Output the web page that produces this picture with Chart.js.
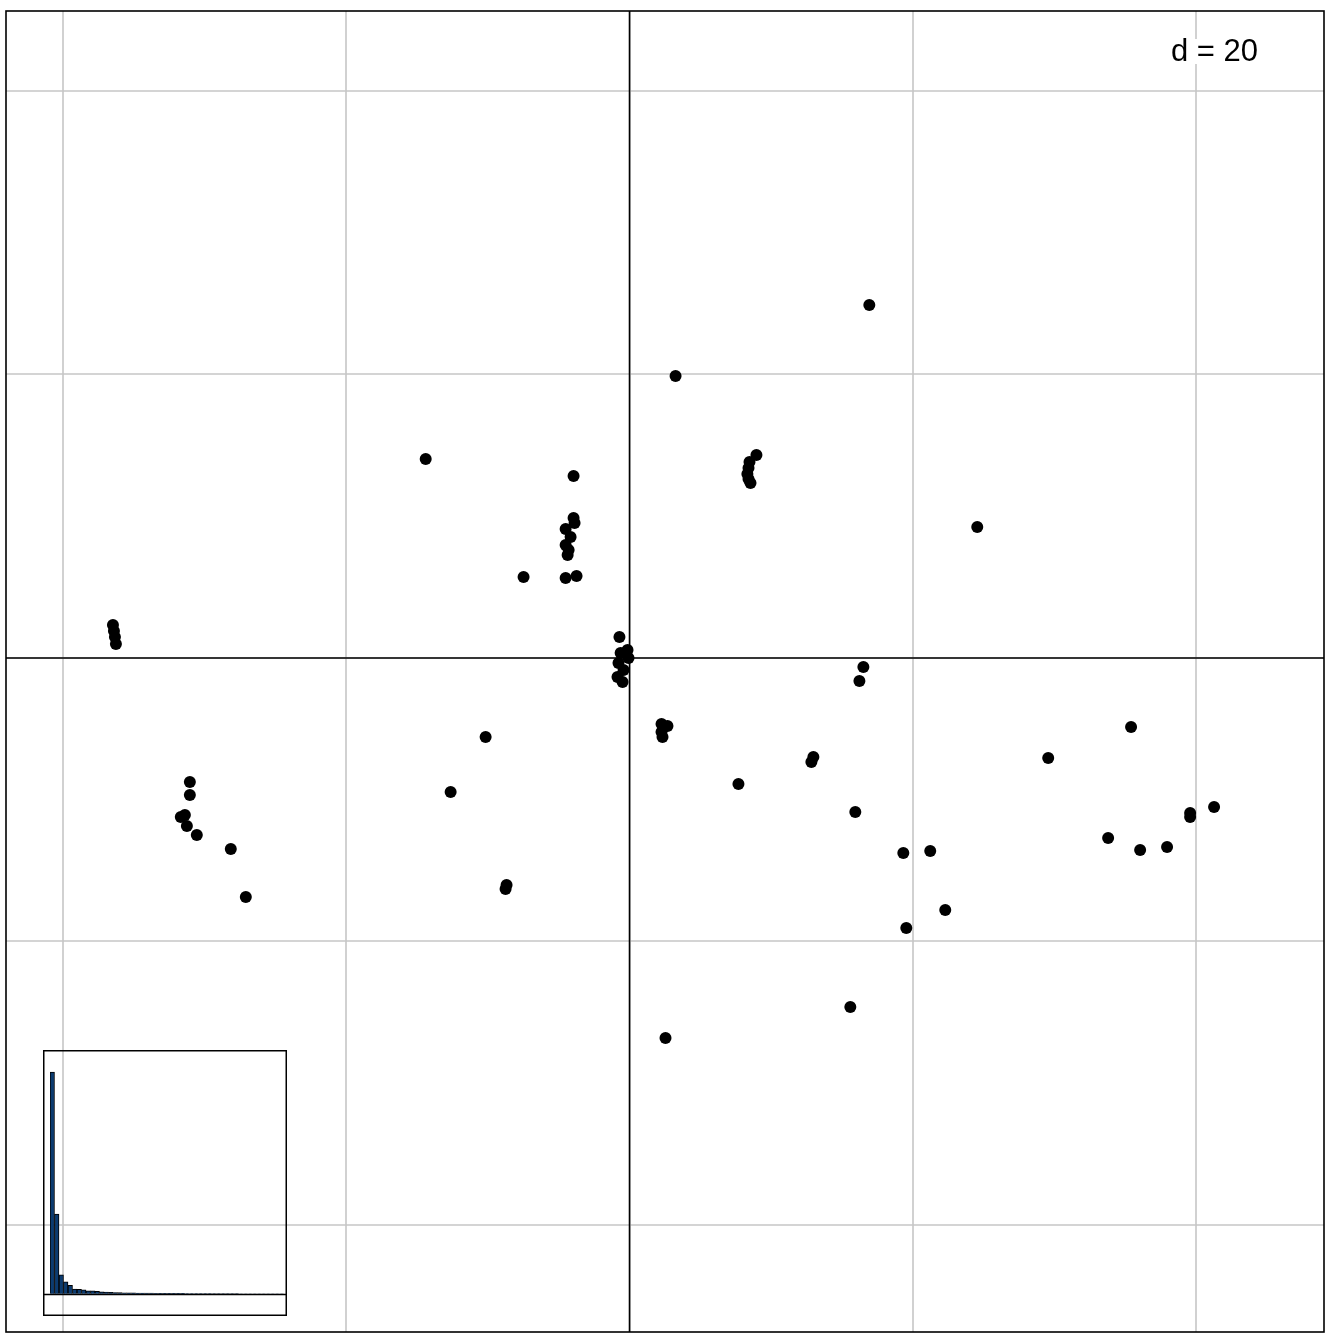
<!DOCTYPE html>
<html>
<head>
<meta charset="utf-8">
<script src="https://cdn.jsdelivr.net/npm/chart.js@4"></script>
<style>
  body { margin: 0; background: #fff; }
  #wrap { position: relative; width: 1344px; height: 1344px; }
  #eigChart { position: absolute; left: 43px; top: 1050px; }
</style>
</head>
<body>
<div id="wrap">
  <canvas id="myChart" width="1344" height="1344"></canvas>
  <canvas id="eigChart" width="244" height="266"></canvas>
</div>
<script>
// scores (axis 1, axis 2)
const xs = [16.93, 3.25, -14.39, -3.95, 24.55,
  8.96, 8.47, 8.40, 8.32, 8.40, 8.54,
  -3.95, -3.88, -4.51, -4.16, -4.51, -4.30, -4.37, -4.51, -3.74, -7.48,
  -36.47, -36.40, -36.33, -36.26,
  -0.71, -0.14, -0.63, -0.07, -0.78, -0.42, -0.85, -0.49,
  16.51, 16.23, 2.26, 2.68, 2.26, 2.33, -10.16, 35.41, 29.56, 12.98, 12.84, 7.69,
  -31.04, -31.04, -31.68, -31.39, -31.25, -30.55, -28.15, -27.09,
  -12.63, 15.94, 41.27, 39.58, 39.58, 33.79, 36.05, 37.95,
  19.33, 21.23, 22.29, 19.54, -8.68, -8.75, 15.59, 2.54];
const ys = [24.90, 19.89, 14.04, 12.84, 9.24,
  14.32, 13.83, 13.40, 12.98, 12.63, 12.35,
  9.88, 9.52, 9.10, 8.54, 7.97, 7.62, 7.27, 5.64, 5.78, 5.71,
  2.33, 1.90, 1.48, 0.99,
  1.48, 0.56, 0.35, 0.00, -0.35, -0.85, -1.34, -1.69,
  -0.63, -1.62, -4.66, -4.80, -5.22, -5.57, -5.57, -4.87, -7.05, -6.98, -7.34, -8.89,
  -8.75, -9.66, -11.22, -11.08, -11.85, -12.49, -13.47, -16.86,
  -9.45, -10.86, -10.51, -10.93, -11.22, -12.70, -13.55, -13.33,
  -13.76, -13.62, -17.78, -19.05, -16.01, -16.30, -24.62, -26.81];
const gridValues = [-40, -20, 0, 20, 40];
const gridLabel = 'd = 20';
const eigenvalues = [100, 36, 8.6, 5.4, 3.8, 2.2, 2.0, 1.8, 1.4, 1.3, 1.1, 0.9, 0.8,
  0.7, 0.6, 0.55, 0.5, 0.45, 0.4, 0.38, 0.35, 0.32, 0.3, 0.28, 0.26, 0.24, 0.22,
  0.2, 0.19, 0.18, 0.17, 0.16, 0.15, 0.14, 0.13, 0.12, 0.11, 0.1, 0.09, 0.08,
  0.07, 0.06, 0.05, 0.05, 0.04, 0.04, 0.03, 0.03, 0.02, 0.02, 0.01, 0.01];

const points = xs.map((x, i) => ({ x: x, y: ys[i] }));

// grid, axes through origin, frame and the "d = 20" box
const adeGrid = {
  id: 'adeGrid',
  beforeDatasetsDraw(chart) {
    const c = chart.ctx, a = chart.chartArea;
    const sx = chart.scales.x, sy = chart.scales.y;
    c.save();
    c.lineWidth = 1.6;
    c.strokeStyle = '#c6c6c6';
    gridValues.forEach(v => {
      const px = Math.round(sx.getPixelForValue(v));
      const py = Math.round(sy.getPixelForValue(v));
      c.beginPath(); c.moveTo(px, a.top); c.lineTo(px, a.bottom); c.stroke();
      c.beginPath(); c.moveTo(a.left, py); c.lineTo(a.right, py); c.stroke();
    });
    c.strokeStyle = '#000';
    c.lineWidth = 1.6;
    const x0 = sx.getPixelForValue(0), y0 = sy.getPixelForValue(0);
    c.beginPath(); c.moveTo(x0, a.top); c.lineTo(x0, a.bottom); c.stroke();
    c.beginPath(); c.moveTo(a.left, y0); c.lineTo(a.right, y0); c.stroke();
    c.strokeRect(a.left, a.top, a.right - a.left, a.bottom - a.top);
    // label box
    c.font = '31px "Liberation Sans", Arial, sans-serif';
    const w = c.measureText(gridLabel).width;
    const tx = a.right - 66 - w, ty = a.top + 41;
    c.fillStyle = '#fff';
    c.fillRect(tx - 2, ty - 13, w + 4, 25);
    c.fillStyle = '#000';
    c.textBaseline = 'middle';
    c.fillText(gridLabel, tx, ty);
    c.restore();
  }
};

const ctx = document.getElementById('myChart').getContext('2d');
const myChart = new Chart(ctx, {
  type: 'scatter',
  data: {
    datasets: [{
      data: points,
      backgroundColor: '#000',
      borderWidth: 0,
      pointRadius: 6
    }]
  },
  options: {
    responsive: false,
    animation: false,
    layout: { padding: { left: 5, top: 11, right: 20, bottom: 12 } },
    plugins: { legend: { display: false }, tooltip: { enabled: false } },
    scales: {
      x: { display: false, min: -44.02, max: 49.03 },
      y: { display: false, min: -47.55, max: 45.64 }
    }
  },
  plugins: [adeGrid]
});

// eigenvalue inset
const eigFrame = {
  id: 'eigFrame',
  afterDatasetsDraw(chart) {
    const c = chart.ctx;
    const y0 = Math.round(chart.scales.y.getPixelForValue(0)) + 0.5;
    c.save();
    c.strokeStyle = '#000';
    c.lineWidth = 1.5;
    c.beginPath(); c.moveTo(0, y0); c.lineTo(chart.width, y0); c.stroke();
    c.strokeRect(0.75, 0.75, chart.width - 1.5, chart.height - 1.5);
    c.restore();
  }
};

const eigChart = new Chart(document.getElementById('eigChart').getContext('2d'), {
  type: 'bar',
  data: {
    labels: eigenvalues.map((v, i) => String(i + 1)),
    datasets: [{
      data: eigenvalues,
      backgroundColor: '#0b3b70',
      borderColor: '#000',
      borderWidth: 1,
      categoryPercentage: 1,
      barPercentage: 1
    }]
  },
  options: {
    responsive: false,
    animation: false,
    layout: { padding: { left: 7, right: 3, top: 0, bottom: 0 } },
    plugins: { legend: { display: false }, tooltip: { enabled: false } },
    scales: {
      x: { display: false },
      y: { display: false, min: -10, max: 110 }
    }
  },
  plugins: [eigFrame]
});
</script>
</body>
</html>
